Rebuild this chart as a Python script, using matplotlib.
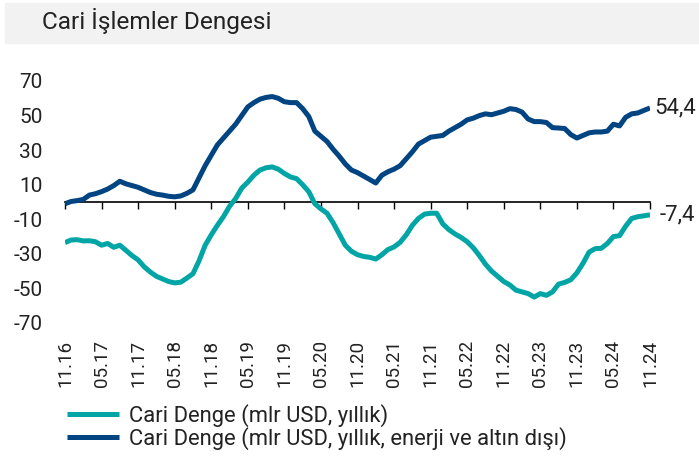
import matplotlib
matplotlib.use("Agg")
import matplotlib.pyplot as plt
from matplotlib.patches import Rectangle

# monthly, 11.2016 - 11.2024, 12-month rolling (bn USD)
cari_denge = [
    -23.5, -22.0, -21.8, -22.5, -22.4, -23.0, -25.0, -24.0, -26.2, -25.0,
    -28.0, -31.0, -33.5, -37.5, -40.5, -43.0, -44.5, -46.0, -46.8, -46.4,
    -44.0, -41.5, -34.0, -25.0, -19.0, -13.5, -8.5, -2.5, 2.0, 8.0,
    11.5, 15.5, 18.5, 19.8, 20.3, 19.0, 16.5, 14.5, 13.5, 10.0,
    6.0, -1.0, -4.0, -6.5, -12.0, -18.5, -25.0, -28.5, -30.5, -31.5,
    -32.0, -33.0, -30.5, -27.5, -26.0, -23.3, -19.0, -13.5, -9.5, -7.0,
    -6.5, -6.5, -12.7, -16.0, -18.5, -20.5, -23.0, -26.5, -31.0, -36.0,
    -40.0, -43.0, -46.0, -48.0, -51.0, -52.0, -53.0, -55.0, -53.0, -54.0,
    -52.0, -47.5, -46.5, -45.0, -41.0, -35.5, -29.0, -27.0, -26.8, -24.0,
    -20.0, -19.5, -14.0, -9.5, -8.5, -8.0, -7.4,
]
cari_denge_ex = [
    -1.0, 0.3, 0.8, 1.5, 4.0, 4.8, 6.0, 7.5, 9.5, 12.0,
    10.5, 9.5, 8.5, 7.0, 5.5, 4.5, 4.0, 3.3, 3.0, 3.5,
    5.0, 7.0, 14.0, 21.0, 27.0, 33.0, 37.0, 41.0, 45.0, 50.0,
    55.0, 57.5, 59.5, 60.5, 61.0, 60.0, 58.0, 57.5, 57.5, 54.0,
    49.5, 41.0, 38.0, 35.0, 30.5, 26.5, 22.0, 18.5, 17.0, 15.0,
    13.0, 11.0, 15.5, 17.5, 19.0, 21.0, 25.0, 29.0, 33.5, 35.5,
    37.5, 38.0, 38.5, 41.0, 43.0, 45.0, 47.5, 48.5, 50.0, 51.0,
    50.5, 51.5, 52.5, 54.0, 53.5, 52.0, 48.0, 46.5, 46.5, 46.0,
    43.0, 42.8, 42.5, 39.0, 37.0, 38.5, 40.0, 40.5, 40.5, 41.0,
    45.0, 44.0, 49.0, 51.0, 51.5, 53.0, 54.4,
]
tick_labels = ["11.16", "05.17", "11.17", "05.18", "11.18", "05.19", "11.19",
               "05.20", "11.20", "05.21", "11.21", "05.22", "11.22", "05.23",
               "11.23", "05.24", "11.24"]
y_ticks = [70, 50, 30, 10, -10, -30, -50, -70]

TEAL = "#02A5A5"
NAVY = "#004481"
TXT = "#222222"
font = ["Roboto", "DejaVu Sans"]

fig = plt.figure(figsize=(6.99, 4.57), dpi=100)
W, H = 699, 457

# grey title band
fig.patches.append(Rectangle((5 / W, 1 - 43 / H), 694 / W, 40 / H,
                             transform=fig.transFigure, color="#f2f2f2", zorder=0))
fig.text(42 / W, 1 - 21 / H, "Cari İşlemler Dengesi", family=font,
         fontsize=17.6, color=TXT, va="center", ha="left")

ax = fig.add_axes([65 / W, 1 - 323 / H, 585 / W, 242 / H])
months = list(range(len(cari_denge)))
ax.plot(months, cari_denge, color=TEAL, lw=3.6, solid_capstyle="butt",
        label="Cari Denge (mlr USD, yıllık)")
ax.plot(months, cari_denge_ex, color=NAVY, lw=3.6, solid_capstyle="butt",
        label="Cari Denge (mlr USD, yıllık, enerji ve altın dışı)")

ax.set_xlim(0, 96)
ax.set_ylim(-70, 70)
for s in ["top", "right", "left"]:
    ax.spines[s].set_visible(False)
ax.spines["bottom"].set_position(("data", 0))
ax.spines["bottom"].set_linewidth(1.2)
ax.spines["bottom"].set_zorder(1)
ticks = list(range(0, 97, 6))
ax.set_xticks(ticks)
ax.tick_params(axis="x", direction="out", length=5, width=1, labelbottom=False)
ax.set_yticks(y_ticks)
ax.set_yticklabels([str(v) for v in y_ticks], family=font, fontsize=15, color=TXT)
ax.tick_params(axis="y", length=0, pad=16)

sec = ax.secondary_xaxis(-0.0)
sec.set_xticks(ticks)
sec.set_xticklabels(tick_labels, rotation=90, family=font, fontsize=13.5, color=TXT)
sec.tick_params(length=0, pad=12)
sec.spines["bottom"].set_visible(False)

ax.annotate("54,4", (96, cari_denge_ex[-1]), xytext=(3, 0), textcoords="offset points",
            va="center", ha="left", family=font, fontsize=16, color=TXT)
ax.annotate("-7,4", (96, cari_denge[-1]), xytext=(7, 0), textcoords="offset points",
            va="center", ha="left", family=font, fontsize=16, color=TXT)

fig.legend(loc="upper left", bbox_to_anchor=(58 / W, 1 - 395 / H), frameon=False,
           prop={"family": font, "size": 15.8}, handlelength=2.4, handletextpad=0.45,
           labelspacing=0.0, borderaxespad=0, labelcolor=TXT)

fig.savefig("out.png", dpi=100)
